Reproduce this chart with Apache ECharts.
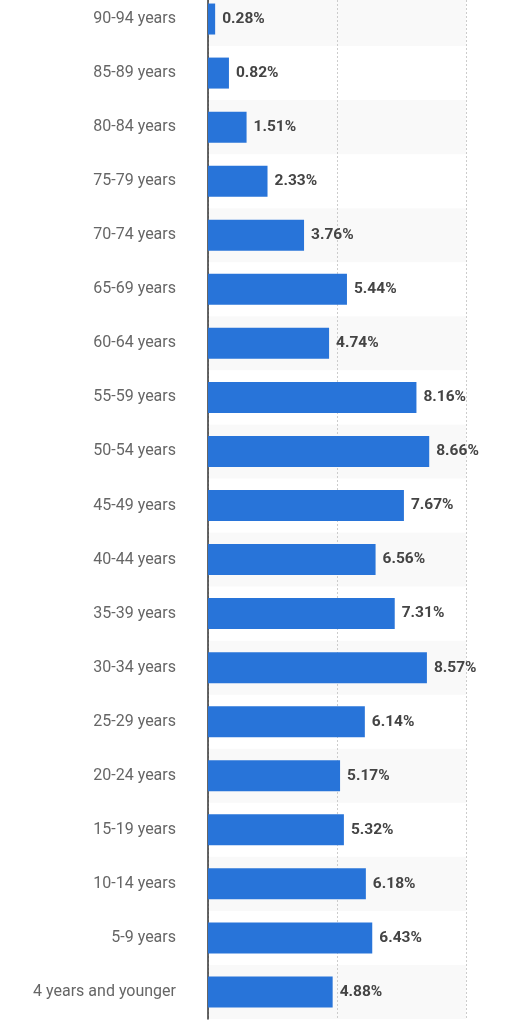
<!DOCTYPE html>
<html><head><meta charset="utf-8">
<script src="https://cdn.jsdelivr.net/npm/echarts@6/dist/echarts.min.js"></script>
<style>html,body{margin:0;padding:0;background:#fff;overflow:hidden}#c{width:515px;height:1033px;margin-top:-8px}</style>
</head><body><div id="c"></div>
<script>
const categories = ["4 years and younger","5-9 years","10-14 years","15-19 years","20-24 years","25-29 years","30-34 years","35-39 years","40-44 years","45-49 years","50-54 years","55-59 years","60-64 years","65-69 years","70-74 years","75-79 years","80-84 years","85-89 years","90-94 years"];
const values = [4.88,6.43,6.18,5.32,5.17,6.14,8.57,7.31,6.56,7.67,8.66,8.16,4.74,5.44,3.76,2.33,1.51,0.82,0.28];
const chart = echarts.init(document.getElementById('c'), null, {renderer:'canvas'});
chart.setOption({
  animation:false,
  grid:{left:208,right:49,top:0,bottom:6,containLabel:false},
  xAxis:[
    {type:'value',min:0,max:10.1,
      axisLine:{show:false},axisTick:{show:false},axisLabel:{show:false},splitLine:{show:false}},
    {type:'value',min:0,max:10,interval:5,position:'bottom',
      axisLine:{show:false},axisTick:{show:false},axisLabel:{show:false},
      splitLine:{show:true,lineStyle:{color:'#cccccc',type:[2,2],width:1}}}
  ],
  yAxis:{type:'category',data:categories,
    axisLine:{show:true,lineStyle:{color:'#333',width:1.5}},
    axisTick:{show:false},
    axisLabel:{color:'#666',fontSize:16,fontFamily:'Roboto',margin:32},
    splitArea:{show:true,areaStyle:{color:['#f9f9f9','#ffffff']}}},
  series:[{type:'bar',data:values,barWidth:31,xAxisIndex:0,
    itemStyle:{color:'#2874d9'},
    label:{show:true,position:'right',distance:7,color:'#444',fontSize:15.5,fontWeight:'bold',fontFamily:'Roboto',
      formatter:p=>p.value.toFixed(2)+'%'}}]
});
</script></body></html>
